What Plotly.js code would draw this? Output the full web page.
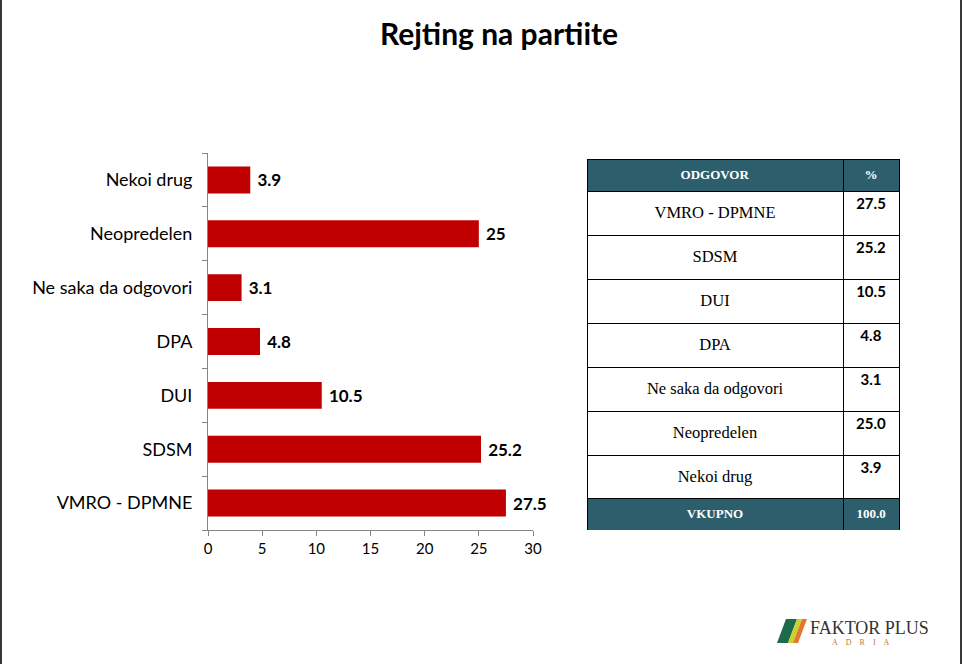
<!DOCTYPE html>
<html>
<head>
<meta charset="utf-8">
<script src="https://cdn.plot.ly/plotly-3.0.1.min.js"></script>
<style>html,body{margin:0;padding:0;background:#fff;}#chart{width:962px;height:664px;}</style>
</head>
<body>
<div id="chart"></div>
<script>
// Bar chart data (bottom to top)
const categories = ["VMRO - DPMNE", "SDSM", "DUI", "DPA", "Ne saka da odgovori", "Neopredelen", "Nekoi drug"];
const values = [27.5, 25.2, 10.5, 4.8, 3.1, 25, 3.9];
const valueLabels = ["27.5", "25.2", "10.5", "4.8", "3.1", "25", "3.9"];
const xTicks = [0, 5, 10, 15, 20, 25, 30];

// Table data
const tableHeader = ["ODGOVOR", "%"];
const tableAnswers = ["VMRO - DPMNE", "SDSM", "DUI", "DPA", "Ne saka da odgovori", "Neopredelen", "Nekoi drug"];
const tablePercents = ["27.5", "25.2", "10.5", "4.8", "3.1", "25.0", "3.9"];
const tableTotal = ["VKUPNO", "100.0"];

const teal = "#2C5E6C";
const red = "#C00000";
const W = 962, H = 664;
const px = v => v / W;
const py = v => 1 - v / H;

const bar = {
  type: "bar",
  orientation: "h",
  y: categories,
  x: values,
  text: valueLabels.map(v => "\u00A0" + v),
  textposition: "outside",
  cliponaxis: false,
  textfont: {family: "Lato, sans-serif", size: 17, color: "#000", weight: "bold"},
  marker: {color: red},
  hoverinfo: "skip",
  xaxis: "x", yaxis: "y"
};

const tbl = {
  type: "table",
  domain: {x: [px(587), px(899)], y: [py(498), py(159)]},
  columnwidth: [256, 56],
  header: {
    values: tableHeader.map(t => "<b>" + t + "</b>"),
    fill: {color: teal},
    line: {color: "#000", width: 1},
    font: {family: "Liberation Serif, serif", size: 13, color: "#fff"},
    align: "center",
    height: 32
  },
  cells: {
    values: [tableAnswers, tablePercents.map(t => "<b>" + t + "</b>")],
    fill: {color: "#fff"},
    line: {color: "#000", width: 1},
    font: {family: ["Liberation Serif, serif", "Lato, sans-serif"], size: [16.5, 15], color: "#000"},
    align: ["center", "center"],
    height: 44
  }
};

const tblTotal = {
  type: "table",
  domain: {x: [px(587), px(899)], y: [py(531), py(498)]},
  columnwidth: [256, 56],
  header: {
    values: tableTotal.map(t => "<b>" + t + "</b>"),
    fill: {color: teal},
    line: {color: "#000", width: 1},
    font: {family: "Liberation Serif, serif", size: 13, color: "#fff"},
    align: "center",
    height: 32
  }
};

const layout = {
  width: W, height: H,
  margin: {l: 0, r: 0, t: 0, b: 0},
  paper_bgcolor: "#fff", plot_bgcolor: "#fff",
  showlegend: false,
  bargap: 0.5,
  title: {text: "<b>Rejting na partiite</b>", x: px(499), xanchor: "center", y: py(34), yanchor: "middle",
          font: {family: "Lato, sans-serif", size: 30, color: "#000"}},
  xaxis: {
    domain: [px(208), px(533)], range: [0, 30], tickvals: xTicks, ticktext: xTicks.map(String),
    showgrid: false, zeroline: false, showline: true, linecolor: "#868686", linewidth: 1,
    ticks: "outside", ticklen: 5, tickcolor: "#868686",
    tickfont: {family: "Lato, sans-serif", size: 15, color: "#000"}, fixedrange: true
  },
  yaxis: {
    domain: [py(530), py(153)], type: "category", categoryorder: "array", categoryarray: categories,
    range: [-0.5, 6.5],
    showgrid: false, zeroline: false, showline: true, linecolor: "#868686", linewidth: 1,
    ticks: "outside", ticklen: 5, tickcolor: "#868686", tickson: "boundaries",
    tickfont: {family: "Lato, sans-serif", size: 18, color: "#000"}, ticklabelstandoff: 11, fixedrange: true
  },
  shapes: [
    {type: "line", xref: "paper", yref: "paper", x0: 0.001, x1: 0.001, y0: 0, y1: 1, line: {color: "#333", width: 2}},
    {type: "line", xref: "paper", yref: "paper", x0: 0.999, x1: 0.999, y0: 0, y1: 1, line: {color: "#333", width: 2}},
    // logo stripes
    {type: "path", xref: "paper", yref: "paper",
     path: `M ${px(777)} ${py(643)} L ${px(788)} ${py(643)} L ${px(797)} ${py(619)} L ${px(786)} ${py(619)} Z`,
     fillcolor: "#1E6B4C", line: {width: 0}},
    {type: "path", xref: "paper", yref: "paper",
     path: `M ${px(788)} ${py(643)} L ${px(793)} ${py(643)} L ${px(802)} ${py(619)} L ${px(797)} ${py(619)} Z`,
     fillcolor: "#C6D230", line: {width: 0}},
    {type: "path", xref: "paper", yref: "paper",
     path: `M ${px(793)} ${py(643)} L ${px(798)} ${py(643)} L ${px(807)} ${py(619)} L ${px(802)} ${py(619)} Z`,
     fillcolor: "#E3782C", line: {width: 0}}
  ],
  annotations: [
    {xref: "paper", yref: "paper", x: px(808), y: py(628), xanchor: "left", yanchor: "middle", showarrow: false,
     text: "FAKTOR PLUS", font: {family: "Liberation Serif, serif", size: 18, color: "#333"}},
    {xref: "paper", yref: "paper", x: px(830), y: py(642), xanchor: "left", yanchor: "middle", showarrow: false,
     text: "A\u2003D\u2003R\u2003I\u2003A", font: {family: "Liberation Serif, serif", size: 8, color: "#C07A3A"}}
  ]
};

Plotly.newPlot("chart", [bar, tbl, tblTotal], layout, {displayModeBar: false, staticPlot: true}).then(gd => {
  const ans = new Set(tableAnswers);
  const pct = new Set(tablePercents);
  gd.querySelectorAll("text.cell-text").forEach(t => {
    const s = t.textContent;
    const tr = t.getAttribute("transform") || "";
    if (ans.has(s)) t.setAttribute("transform", tr + " translate(0,7)");
    else if (pct.has(s)) t.setAttribute("transform", tr + " translate(0,-5)");
  });
});
</script>
</body>
</html>
